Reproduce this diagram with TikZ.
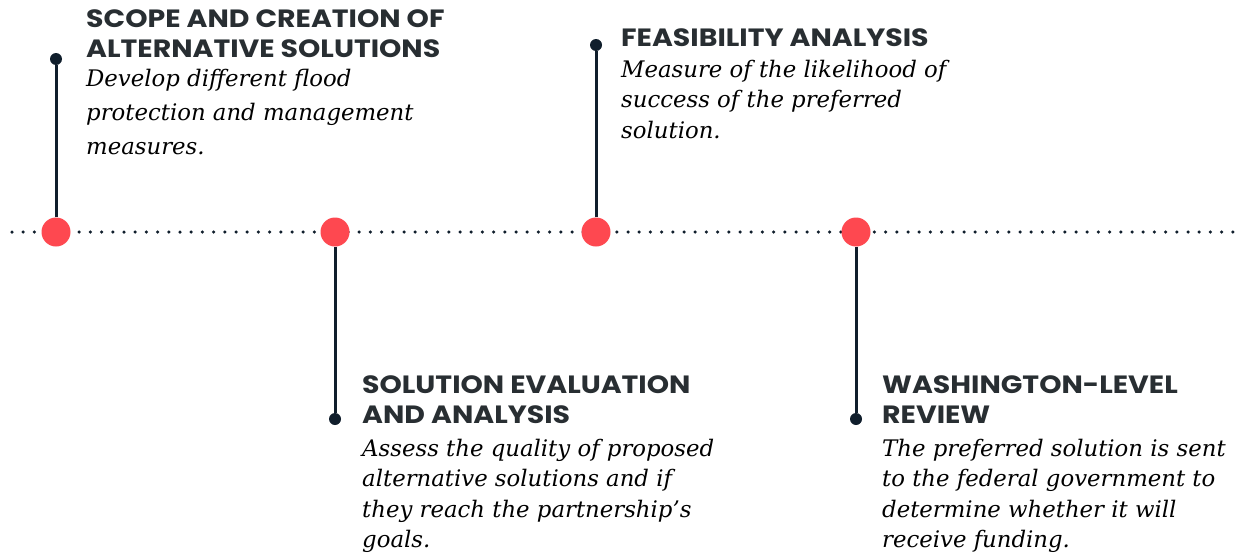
\documentclass[tikz,border=0pt]{standalone}
\usepackage{fontspec}
\newfontfamily\headfont[FakeStretch=1.135]{Poppins}
\newfontfamily\bodyfont{DejaVu Serif}
\definecolor{dotred}{RGB}{254,72,80}
\definecolor{navy}{RGB}{16,30,44}
\definecolor{headgray}{RGB}{40,46,50}
\tikzset{
  head/.style={anchor=base west, inner sep=0pt, align=left, text=headgray,
    font=\headfont\bfseries\fontsize{25}{30}\selectfont},
  body/.style={anchor=base west, inner sep=0pt, align=left, text=black,
    font=\bodyfont\itshape\fontsize{22.8}{30.5}\selectfont},
  bodywide/.style={body, font=\bodyfont\itshape\fontsize{22.8}{33.8}\selectfont},
  bigdot/.style={circle, fill=dotred, minimum size=29pt, inner sep=0pt},
  smalldot/.style={circle, fill=navy, minimum size=12pt, inner sep=0pt},
  stem/.style={draw=navy, line width=3pt},
  dotline/.style={draw=navy, line width=3.5pt, line cap=round, dash pattern=on 0pt off 11.2pt}
}
\begin{document}
\begin{tikzpicture}[x=1pt,y=-1pt]
\path[use as bounding box, fill=white] (0,0) rectangle (1245,554);
\coordinate (tl) at (12,232);
\coordinate (tr) at (1240,232);
\draw[dotline] (tl) -- (tr);
% milestones
\node[smalldot] (d1) at (56,59) {};
\node[smalldot] (d2) at (335,419) {};
\node[smalldot] (d3) at (596,45) {};
\node[smalldot] (d4) at (856,419) {};
\node[bigdot] (c1) at (56,232) {};
\node[bigdot] (c2) at (335,232) {};
\node[bigdot] (c3) at (596,232) {};
\node[bigdot] (c4) at (856,232) {};
\draw[stem] (c1) -- (d1);
\draw[stem] (c2) -- (d2);
\draw[stem] (c3) -- (d3);
\draw[stem] (c4) -- (d4);
% texts (anchored at the baseline of the last line)
\node[head] (h1) at (86,57) {SCOPE AND CREATION OF\\ALTERNATIVE SOLUTIONS};
\node[bodywide] (b1) at (86,154.3) {Develop different flood\\protection and management\\measures.};
\node[head] (h3) at (621,46) {FEASIBILITY ANALYSIS};
\node[body] (b3) at (621,138) {Measure of the likelihood of\\success of the preferred\\solution.};
\node[head] (h2) at (362,423) {SOLUTION EVALUATION\\AND ANALYSIS};
\node[body] (b2) at (362,547.5) {Assess the quality of proposed\\alternative solutions and if\\they reach the partnership’s\\goals.};
\node[head] (h4) at (882,423) {WASHINGTON-LEVEL\\REVIEW};
\node[body] (b4) at (882,547.5) {The preferred solution is sent\\to the federal government to\\determine whether it will\\receive funding.};
\end{tikzpicture}
\end{document}
